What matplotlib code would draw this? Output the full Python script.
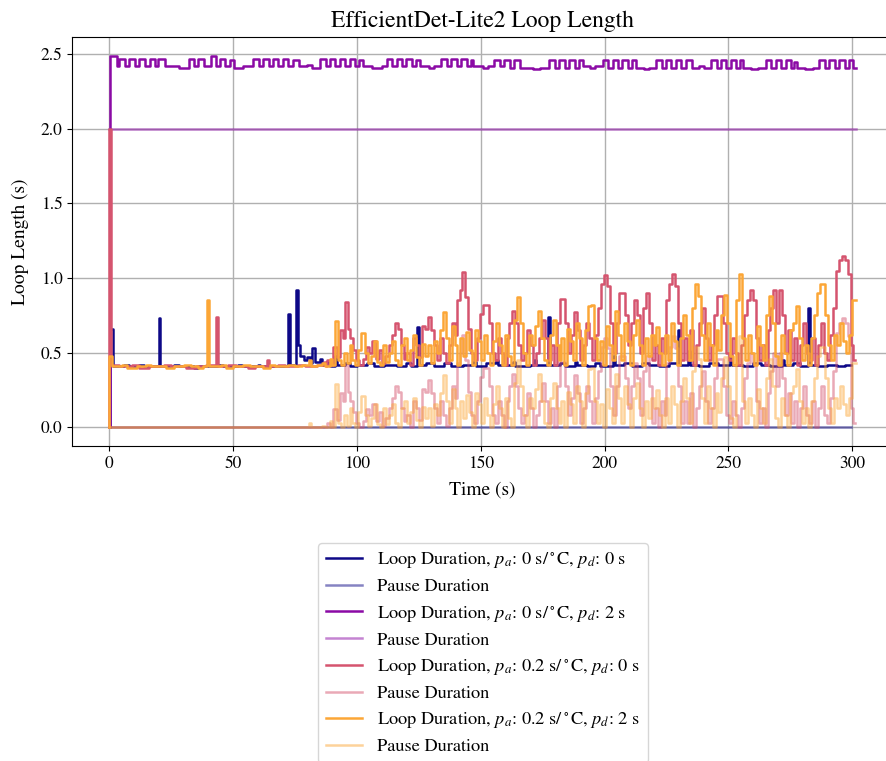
import matplotlib
matplotlib.use("Agg")
import matplotlib.pyplot as plt

# ---------------- data (time s, value s) ----------------
blue_loop = [(0.0, 0.00), (0.4, 0.66), (1.3, 0.41), (6, 0.42), (8, 0.41), (12, 0.42), (14, 0.41),
             (20.0, 0.73), (20.6, 0.41), (26, 0.42), (28, 0.41), (34, 0.40), (36, 0.41), (44, 0.42),
             (46, 0.41), (52, 0.42), (53.5, 0.41), (60, 0.42), (61, 0.41), (66, 0.41), (72.3, 0.76),
             (73.0, 0.42), (75.5, 0.92), (76.2, 0.55), (77.0, 0.48), (78.5, 0.45), (80.0, 0.47),
             (81.0, 0.43), (82.0, 0.53), (83.0, 0.44), (85.0, 0.46), (86.0, 0.42), (88.0, 0.44),
             (89.0, 0.41), (91.0, 0.48), (91.8, 0.42), (95, 0.43), (97, 0.41), (100, 0.42), (104, 0.43),
             (107, 0.41), (111, 0.42), (116, 0.41), (120, 0.43), (122, 0.41), (124.2, 0.67), (125.0, 0.42),
             (128, 0.43), (131, 0.41), (135, 0.43), (138, 0.41), (143, 0.42), (147, 0.44), (148, 0.41),
             (152, 0.43), (156, 0.45), (157, 0.42), (160, 0.42), (163, 0.44), (164, 0.41), (170, 0.42),
             (171.5, 0.45), (172.5, 0.42), (177.3, 0.74), (178.0, 0.42), (182, 0.43), (184, 0.41),
             (188, 0.44), (189, 0.42), (193, 0.41), (196, 0.43), (198, 0.41), (203.6, 0.48), (204.4, 0.42),
             (208, 0.43), (211, 0.41), (215, 0.43), (218, 0.42), (222, 0.41), (226, 0.43), (229.8, 0.65),
             (230.5, 0.42), (233.8, 0.51), (234.5, 0.42), (238, 0.41), (242, 0.43), (246, 0.42),
             (250.6, 0.48), (251.3, 0.42), (256, 0.41), (260, 0.43), (263, 0.42), (267, 0.41),
             (271.5, 0.45), (272.3, 0.42), (276, 0.43), (279, 0.41), (282.2, 0.80), (283.0, 0.42),
             (286, 0.41), (290, 0.42), (294, 0.41), (297, 0.42), (299.6, 0.42)]
blue_pause = [(0.0, 0.0), (299.6, 0.0)]

purple_loop = [(0.0, 0.00), (0.1, 2.49), (3.0, 2.42), (3.9, 2.47), (6.3, 2.42), (8.0, 2.47), (10.3, 2.42),
               (12.0, 2.47), (14.5, 2.42), (16.3, 2.47), (18.5, 2.42), (19.8, 2.47), (22.5, 2.42),
               (28.0, 2.41), (32.0, 2.47), (34.3, 2.42), (36.0, 2.47), (38.3, 2.42), (41.0, 2.49),
               (43.2, 2.42), (44.5, 2.47), (46.8, 2.42), (48.6, 2.46), (50.5, 2.41), (54, 2.42),
               (58.0, 2.47), (60.3, 2.42), (62.0, 2.47), (64.3, 2.42), (66.0, 2.47), (68.3, 2.42),
               (70.0, 2.47), (72.3, 2.42), (74.0, 2.46), (76.5, 2.42), (80, 2.43), (82, 2.41),
               (85.0, 2.47), (87.3, 2.42), (89.0, 2.47), (91.3, 2.42), (93.0, 2.47), (95.3, 2.42),
               (97.0, 2.47), (99.3, 2.42), (101.0, 2.46), (102.5, 2.42), (106, 2.41), (110, 2.42),
               (112.0, 2.47), (114.3, 2.42), (116.0, 2.47), (118.3, 2.42), (120.0, 2.47), (122.3, 2.42),
               (124.0, 2.46), (125.5, 2.42), (129, 2.41), (131, 2.42), (134.0, 2.47), (136.3, 2.42),
               (138.0, 2.47), (140.3, 2.42), (142.0, 2.47), (144.3, 2.42), (146.0, 2.46), (147.0, 2.42),
               (151, 2.41), (153, 2.42), (155.5, 2.46), (157.8, 2.42), (159.5, 2.46), (161.8, 2.41),
               (163.5, 2.46), (165.8, 2.41), (168.3, 2.41), (171, 2.40), (174, 2.41), (177.7, 2.46),
               (180.0, 2.41), (181.7, 2.46), (184.0, 2.41), (185.7, 2.46), (188.0, 2.41), (189.5, 2.46),
               (191.2, 2.42), (194, 2.41), (196, 2.42), (199.2, 2.46), (201.5, 2.41), (203.2, 2.46),
               (205.5, 2.41), (207.2, 2.46), (209.5, 2.41), (211.0, 2.46), (212.7, 2.41), (216, 2.40),
               (218, 2.41), (220.7, 2.46), (223.0, 2.41), (224.7, 2.46), (227.0, 2.41), (228.7, 2.46),
               (231.0, 2.41), (232.7, 2.46), (235.5, 2.41), (238, 2.42), (240, 2.41), (242.9, 2.46),
               (245.2, 2.41), (246.9, 2.46), (249.2, 2.41), (250.9, 2.46), (253.2, 2.41), (254.5, 2.46),
               (255.7, 2.41), (259, 2.40), (262, 2.41), (265.1, 2.46), (267.4, 2.41), (269.1, 2.46),
               (271.4, 2.41), (273.1, 2.46), (275.4, 2.41), (276.5, 2.45), (277.9, 2.41), (281, 2.40),
               (284, 2.41), (286.6, 2.46), (288.9, 2.41), (290.6, 2.46), (292.9, 2.41), (294.6, 2.46),
               (296.9, 2.41), (298.6, 2.46), (300.5, 2.41), (301.4, 2.41)]
purple_pause = [(0.0, 2.0), (301.4, 2.0)]

red_loop = [(0.0, 0.00), (0.05, 2.00), (0.7, 0.42), (4.0, 0.41), (9.0, 0.42), (12.0, 0.40), (16.0, 0.41),
            (22.0, 0.42), (25.0, 0.41), (31.0, 0.40), (35.0, 0.41), (39.0, 0.42), (42.9, 0.74),
            (43.9, 0.41), (48.0, 0.42), (51.0, 0.41), (56.0, 0.40), (59.0, 0.41), (63.5, 0.45),
            (64.5, 0.41), (68.0, 0.42), (71.0, 0.41), (76.0, 0.42), (79.0, 0.41), (84.0, 0.42),
            (86.5, 0.44), (87.5, 0.41),
            (88.0, 0.45), (89.2, 0.42), (90.5, 0.54), (91.8, 0.47), (93.0, 0.65), (94.5, 0.60),
            (95.2, 0.84), (96.2, 0.66), (97.2, 0.60), (98.5, 0.52), (99.8, 0.45), (101.0, 0.42),
            (102.3, 0.46), (103.6, 0.54), (104.8, 0.50), (106.2, 0.58), (107.6, 0.46), (108.8, 0.52),
            (110.0, 0.43), (111.4, 0.48), (112.8, 0.55), (114.2, 0.62), (115.2, 0.70), (116.4, 0.66),
            (117.6, 0.55), (118.8, 0.46), (120.0, 0.50), (121.4, 0.42), (122.8, 0.60), (124.0, 0.55),
            (125.2, 0.47), (126.4, 0.68), (127.6, 0.66), (128.6, 0.74), (129.8, 0.65), (131.0, 0.55),
            (132.2, 0.45), (133.4, 0.60), (134.6, 0.50), (135.8, 0.43), (137.0, 0.55), (138.2, 0.70),
            (139.4, 0.62), (140.6, 0.85), (141.8, 0.92), (142.6, 1.04), (143.8, 0.87), (144.8, 0.66),
            (146.0, 0.50), (147.2, 0.45), (148.4, 0.60), (149.6, 0.76), (150.8, 0.82), (152.0, 0.82),
            (153.2, 0.70), (154.4, 0.50), (155.6, 0.45), (156.8, 0.60), (158.0, 0.50), (159.2, 0.42),
            (160.4, 0.60), (161.6, 0.70), (162.6, 0.78), (163.8, 0.70), (165.0, 0.55), (166.2, 0.45),
            (167.4, 0.50), (168.6, 0.65), (169.8, 0.55), (171.0, 0.42), (172.2, 0.50), (173.4, 0.60),
            (174.6, 0.72), (175.8, 0.60), (177.0, 0.45), (178.2, 0.55), (179.4, 0.42), (180.6, 0.70),
            (181.8, 0.86), (183.0, 0.86), (184.2, 0.70), (185.4, 0.50), (186.6, 0.62), (187.8, 0.77),
            (189.0, 0.65), (190.2, 0.45), (191.4, 0.55), (192.6, 0.70), (193.8, 0.60), (195.0, 0.45),
            (196.2, 0.62), (197.4, 0.80), (198.6, 0.96), (199.8, 1.02), (201.0, 0.95), (202.2, 0.70),
            (203.4, 0.50), (204.6, 0.70), (205.8, 0.90), (207.0, 0.90), (208.2, 0.75), (209.4, 0.55),
            (210.6, 0.70), (211.8, 0.85), (213.0, 0.75), (214.2, 0.50), (215.4, 0.80), (216.6, 0.90),
            (217.8, 0.70), (219.0, 0.45), (220.2, 0.55), (221.4, 0.42), (222.6, 0.60), (223.8, 0.50),
            (225.0, 0.85), (226.2, 0.96), (227.4, 1.03), (228.6, 0.95), (229.8, 0.70), (231.0, 0.45),
            (232.2, 0.60), (233.4, 0.45), (234.6, 0.65), (235.8, 0.42), (237.0, 0.55), (238.2, 0.70),
            (239.4, 0.80), (240.6, 0.60), (241.8, 0.45), (243.0, 0.55), (244.2, 0.75), (245.4, 0.88),
            (246.6, 0.88), (247.8, 0.70), (249.0, 0.50), (250.2, 0.45), (251.4, 0.60), (252.6, 0.50),
            (253.8, 0.42), (255.0, 0.55), (256.2, 0.75), (257.4, 0.85), (258.6, 0.92), (259.8, 0.85),
            (261.0, 0.60), (262.2, 0.45), (263.4, 0.55), (264.6, 0.42), (265.8, 0.65), (267.0, 0.80),
            (268.2, 0.92), (269.4, 0.70), (270.6, 0.92), (271.8, 0.75), (273.0, 0.50), (274.2, 0.65),
            (275.4, 0.45), (276.6, 0.60), (277.8, 0.42), (279.0, 0.55), (280.2, 0.70), (281.4, 0.50),
            (282.6, 0.45), (283.8, 0.60), (285.0, 0.42), (286.2, 0.55), (287.4, 0.70), (288.6, 0.50),
            (289.8, 0.45), (291.0, 0.62), (292.2, 0.80), (293.4, 1.05), (294.6, 1.12), (295.8, 1.15),
            (297.0, 1.12), (298.2, 1.03), (299.4, 0.55), (300.4, 0.45), (301.0, 0.45)]
red_pause = [(0.0, 0.00),
             (88.0, 0.03), (89.2, 0.00), (90.5, 0.12), (91.8, 0.05), (93.0, 0.23), (94.5, 0.18),
             (95.2, 0.42), (96.2, 0.24), (97.2, 0.18), (98.5, 0.10), (99.8, 0.03), (101.0, 0.00),
             (102.3, 0.04), (103.6, 0.12), (104.8, 0.08), (106.2, 0.16), (107.6, 0.04), (108.8, 0.10),
             (110.0, 0.01), (111.4, 0.06), (112.8, 0.13), (114.2, 0.20), (115.2, 0.28), (116.4, 0.24),
             (117.6, 0.13), (118.8, 0.04), (120.0, 0.08), (121.4, 0.00), (122.8, 0.18), (124.0, 0.13),
             (125.2, 0.05), (126.4, 0.26), (127.6, 0.24), (128.6, 0.32), (129.8, 0.23), (131.0, 0.13),
             (132.2, 0.03), (133.4, 0.18), (134.6, 0.08), (135.8, 0.01), (137.0, 0.13), (138.2, 0.28),
             (139.4, 0.20), (140.6, 0.43), (141.8, 0.50), (142.6, 0.62), (143.8, 0.45), (144.8, 0.24),
             (146.0, 0.08), (147.2, 0.03), (148.4, 0.18), (149.6, 0.34), (150.8, 0.40), (152.0, 0.40),
             (153.2, 0.28), (154.4, 0.08), (155.6, 0.03), (156.8, 0.18), (158.0, 0.08), (159.2, 0.00),
             (160.4, 0.18), (161.6, 0.28), (162.6, 0.36), (163.8, 0.28), (165.0, 0.13), (166.2, 0.03),
             (167.4, 0.08), (168.6, 0.23), (169.8, 0.13), (171.0, 0.00), (172.2, 0.08), (173.4, 0.18),
             (174.6, 0.30), (175.8, 0.18), (177.0, 0.03), (178.2, 0.13), (179.4, 0.00), (180.6, 0.28),
             (181.8, 0.44), (183.0, 0.44), (184.2, 0.28), (185.4, 0.08), (186.6, 0.20), (187.8, 0.35),
             (189.0, 0.23), (190.2, 0.03), (191.4, 0.13), (192.6, 0.28), (193.8, 0.18), (195.0, 0.03),
             (196.2, 0.20), (197.4, 0.38), (198.6, 0.54), (199.8, 0.60), (201.0, 0.53), (202.2, 0.28),
             (203.4, 0.08), (204.6, 0.28), (205.8, 0.48), (207.0, 0.48), (208.2, 0.33), (209.4, 0.13),
             (210.6, 0.28), (211.8, 0.43), (213.0, 0.33), (214.2, 0.08), (215.4, 0.38), (216.6, 0.48),
             (217.8, 0.28), (219.0, 0.03), (220.2, 0.13), (221.4, 0.00), (222.6, 0.18), (223.8, 0.08),
             (225.0, 0.43), (226.2, 0.54), (227.4, 0.61), (228.6, 0.53), (229.8, 0.28), (231.0, 0.03),
             (232.2, 0.18), (233.4, 0.03), (234.6, 0.23), (235.8, 0.00), (237.0, 0.13), (238.2, 0.28),
             (239.4, 0.38), (240.6, 0.18), (241.8, 0.03), (243.0, 0.13), (244.2, 0.33), (245.4, 0.46),
             (246.6, 0.46), (247.8, 0.28), (249.0, 0.08), (250.2, 0.03), (251.4, 0.18), (252.6, 0.08),
             (253.8, 0.00), (255.0, 0.13), (256.2, 0.33), (257.4, 0.43), (258.6, 0.50), (259.8, 0.43),
             (261.0, 0.18), (262.2, 0.03), (263.4, 0.13), (264.6, 0.00), (265.8, 0.23), (267.0, 0.38),
             (268.2, 0.50), (269.4, 0.28), (270.6, 0.50), (271.8, 0.33), (273.0, 0.08), (274.2, 0.23),
             (275.4, 0.03), (276.6, 0.18), (277.8, 0.00), (279.0, 0.13), (280.2, 0.28), (281.4, 0.08),
             (282.6, 0.03), (283.8, 0.18), (285.0, 0.00), (286.2, 0.13), (287.4, 0.28), (288.6, 0.08),
             (289.8, 0.03), (291.0, 0.20), (292.2, 0.38), (293.4, 0.63), (294.6, 0.70), (295.8, 0.73),
             (297.0, 0.70), (298.2, 0.61), (299.4, 0.13), (300.4, 0.03), (301.0, 0.03)]

orange_loop = [(0.0, 0.00), (0.05, 0.48), (0.9, 0.41), (5.0, 0.42), (7.0, 0.40), (11.0, 0.41), (15.0, 0.42),
               (17.0, 0.41), (23.0, 0.40), (26.0, 0.41), (30.0, 0.42), (33.0, 0.41), (36.0, 0.40),
               (38.0, 0.41), (39.6, 0.85), (40.4, 0.41), (45.0, 0.42), (47.0, 0.40), (50.0, 0.41),
               (54.0, 0.42), (57.0, 0.41), (62.0, 0.40), (65.0, 0.42), (67.0, 0.41), (72.0, 0.42),
               (75.0, 0.41), (78.0, 0.42), (80.5, 0.45), (81.3, 0.41), (84.0, 0.42),
               (86.0, 0.43), (87.0, 0.41), (89.0, 0.46), (90.0, 0.42), (91.2, 0.71), (92.2, 0.45),
               (93.4, 0.42), (94.6, 0.50), (95.8, 0.43), (97.0, 0.55), (98.2, 0.45), (99.4, 0.42),
               (100.6, 0.52), (101.8, 0.63), (103.4, 0.50), (104.6, 0.43), (105.8, 0.48), (107.0, 0.58),
               (108.2, 0.44), (109.4, 0.42), (110.6, 0.55), (111.8, 0.44), (113.0, 0.50), (114.2, 0.58),
               (115.4, 0.45), (116.6, 0.42), (117.8, 0.55), (119.0, 0.60), (120.2, 0.45), (121.4, 0.52),
               (122.6, 0.62), (123.8, 0.47), (125.0, 0.42), (126.2, 0.56), (127.4, 0.48), (128.6, 0.55),
               (129.8, 0.43), (131.0, 0.58), (132.2, 0.50), (133.4, 0.65), (134.6, 0.77), (135.8, 0.60),
               (137.0, 0.45), (138.2, 0.68), (139.4, 0.55), (140.6, 0.42), (141.8, 0.60), (143.0, 0.48),
               (144.2, 0.64), (145.4, 0.52), (146.6, 0.42), (147.8, 0.65), (149.0, 0.58), (150.2, 0.45),
               (151.4, 0.62), (152.6, 0.50), (153.8, 0.42), (155.0, 0.58), (156.2, 0.70), (157.4, 0.55),
               (158.6, 0.42), (159.8, 0.62), (161.0, 0.48), (162.2, 0.42), (163.4, 0.72), (164.6, 0.87),
               (165.8, 0.70), (167.0, 0.50), (168.2, 0.42), (169.4, 0.62), (170.6, 0.55), (171.8, 0.68),
               (173.0, 0.78), (174.2, 0.60), (175.4, 0.45), (176.6, 0.42), (177.8, 0.62), (179.0, 0.72),
               (180.2, 0.55), (181.4, 0.45), (182.6, 0.60), (183.8, 0.42), (185.0, 0.66), (186.2, 0.58),
               (187.4, 0.45), (188.6, 0.70), (189.8, 0.60), (191.0, 0.42), (192.2, 0.65), (193.4, 0.81),
               (194.6, 0.82), (195.8, 0.60), (197.0, 0.45), (198.2, 0.58), (199.4, 0.42), (200.6, 0.68),
               (201.8, 0.55), (203.0, 0.45), (204.2, 0.78), (205.4, 0.62), (206.6, 0.45), (207.8, 0.70),
               (209.0, 0.58), (210.2, 0.42), (211.4, 0.62), (212.6, 0.72), (213.8, 0.55), (215.0, 0.42),
               (216.2, 0.60), (217.4, 0.48), (218.6, 0.62), (219.8, 0.55), (220.8, 0.67), (222.0, 0.50),
               (223.2, 0.42), (224.4, 0.62), (225.6, 0.45), (226.8, 0.70), (228.0, 0.58), (229.2, 0.42),
               (230.4, 0.60), (231.6, 0.75), (232.8, 0.62), (234.0, 0.45), (235.2, 0.80), (236.4, 0.96),
               (237.6, 0.88), (238.8, 0.62), (240.0, 0.45), (241.2, 0.70), (242.4, 0.55), (243.6, 0.42),
               (244.8, 0.65), (246.0, 0.52), (247.2, 0.75), (248.4, 0.89), (249.6, 0.70), (250.8, 0.48),
               (252.0, 0.42), (253.2, 0.85), (254.4, 1.03), (255.6, 0.60), (256.8, 0.45), (258.0, 0.62),
               (259.2, 0.50), (260.4, 0.42), (261.6, 0.68), (262.8, 0.55), (264.0, 0.45), (265.2, 0.75),
               (266.4, 0.88), (267.6, 0.70), (268.8, 0.48), (270.0, 0.42), (271.2, 0.62), (272.4, 0.50),
               (273.6, 0.42), (274.8, 0.65), (276.0, 0.70), (277.2, 0.81), (278.4, 0.60), (279.6, 0.45),
               (280.8, 0.55), (282.0, 0.42), (283.2, 0.60), (284.4, 0.75), (285.6, 0.90), (286.8, 0.96),
               (288.0, 0.96), (289.2, 0.75), (290.4, 0.55), (291.6, 0.45), (292.8, 0.62), (294.0, 0.55),
               (295.2, 0.70), (296.4, 0.58), (297.6, 0.50), (298.8, 0.62), (300.0, 0.85), (301.4, 0.85)]
orange_pause = [(0.0, 0.00), (80.5, 0.03), (81.3, 0.00),
                (86.0, 0.01), (87.0, 0.00), (89.0, 0.04), (90.0, 0.00), (91.2, 0.29), (92.2, 0.03),
                (93.4, 0.00), (94.6, 0.08), (95.8, 0.01), (97.0, 0.13), (98.2, 0.03), (99.4, 0.00),
                (100.6, 0.10), (101.8, 0.21), (103.4, 0.08), (104.6, 0.01), (105.8, 0.06), (107.0, 0.16),
                (108.2, 0.02), (109.4, 0.00), (110.6, 0.13), (111.8, 0.02), (113.0, 0.08), (114.2, 0.16),
                (115.4, 0.03), (116.6, 0.00), (117.8, 0.13), (119.0, 0.18), (120.2, 0.03), (121.4, 0.10),
                (122.6, 0.20), (123.8, 0.05), (125.0, 0.00), (126.2, 0.14), (127.4, 0.06), (128.6, 0.13),
                (129.8, 0.01), (131.0, 0.16), (132.2, 0.08), (133.4, 0.23), (134.6, 0.35), (135.8, 0.18),
                (137.0, 0.03), (138.2, 0.26), (139.4, 0.13), (140.6, 0.00), (141.8, 0.18), (143.0, 0.06),
                (144.2, 0.22), (145.4, 0.10), (146.6, 0.00), (147.8, 0.23), (149.0, 0.16), (150.2, 0.03),
                (151.4, 0.20), (152.6, 0.08), (153.8, 0.00), (155.0, 0.16), (156.2, 0.28), (157.4, 0.13),
                (158.6, 0.00), (159.8, 0.20), (161.0, 0.06), (162.2, 0.00), (163.4, 0.30), (164.6, 0.45),
                (165.8, 0.28), (167.0, 0.08), (168.2, 0.00), (169.4, 0.20), (170.6, 0.13), (171.8, 0.26),
                (173.0, 0.36), (174.2, 0.18), (175.4, 0.03), (176.6, 0.00), (177.8, 0.20), (179.0, 0.30),
                (180.2, 0.13), (181.4, 0.03), (182.6, 0.18), (183.8, 0.00), (185.0, 0.24), (186.2, 0.16),
                (187.4, 0.03), (188.6, 0.28), (189.8, 0.18), (191.0, 0.00), (192.2, 0.23), (193.4, 0.39),
                (194.6, 0.40), (195.8, 0.18), (197.0, 0.03), (198.2, 0.16), (199.4, 0.00), (200.6, 0.26),
                (201.8, 0.13), (203.0, 0.03), (204.2, 0.36), (205.4, 0.20), (206.6, 0.03), (207.8, 0.28),
                (209.0, 0.16), (210.2, 0.00), (211.4, 0.20), (212.6, 0.30), (213.8, 0.13), (215.0, 0.00),
                (216.2, 0.18), (217.4, 0.06), (218.6, 0.20), (219.8, 0.13), (220.8, 0.25), (222.0, 0.08),
                (223.2, 0.00), (224.4, 0.20), (225.6, 0.03), (226.8, 0.28), (228.0, 0.16), (229.2, 0.00),
                (230.4, 0.18), (231.6, 0.33), (232.8, 0.20), (234.0, 0.03), (235.2, 0.38), (236.4, 0.54),
                (237.6, 0.46), (238.8, 0.20), (240.0, 0.03), (241.2, 0.28), (242.4, 0.13), (243.6, 0.00),
                (244.8, 0.23), (246.0, 0.10), (247.2, 0.33), (248.4, 0.47), (249.6, 0.28), (250.8, 0.06),
                (252.0, 0.00), (253.2, 0.43), (254.4, 0.61), (255.6, 0.18), (256.8, 0.03), (258.0, 0.20),
                (259.2, 0.08), (260.4, 0.00), (261.6, 0.26), (262.8, 0.13), (264.0, 0.03), (265.2, 0.33),
                (266.4, 0.46), (267.6, 0.28), (268.8, 0.06), (270.0, 0.00), (271.2, 0.20), (272.4, 0.08),
                (273.6, 0.00), (274.8, 0.23), (276.0, 0.28), (277.2, 0.39), (278.4, 0.18), (279.6, 0.03),
                (280.8, 0.13), (282.0, 0.00), (283.2, 0.18), (284.4, 0.33), (285.6, 0.48), (286.8, 0.54),
                (288.0, 0.54), (289.2, 0.33), (290.4, 0.13), (291.6, 0.03), (292.8, 0.20), (294.0, 0.13),
                (295.2, 0.28), (296.4, 0.16), (297.6, 0.08), (298.8, 0.20), (300.0, 0.43), (301.4, 0.43)]

series = [
    (blue_loop, r"Loop Duration, $p_a$: 0 s/$^\circ$C, $p_d$: 0 s", "#0d0887", 1.0),
    (blue_pause, "Pause Duration", "#0d0887", 0.5),
    (purple_loop, r"Loop Duration, $p_a$: 0 s/$^\circ$C, $p_d$: 2 s", "#8b0aa5", 1.0),
    (purple_pause, "Pause Duration", "#8b0aa5", 0.5),
    (red_loop, r"Loop Duration, $p_a$: 0.2 s/$^\circ$C, $p_d$: 0 s", "#d5546e", 1.0),
    (red_pause, "Pause Duration", "#d5546e", 0.5),
    (orange_loop, r"Loop Duration, $p_a$: 0.2 s/$^\circ$C, $p_d$: 2 s", "#fca636", 1.0),
    (orange_pause, "Pause Duration", "#fca636", 0.5),
]

# ---------------- figure ----------------
plt.rcParams['font.family'] = ['STIXGeneral', 'DejaVu Serif']
plt.rcParams['mathtext.fontset'] = 'stix'

W, H = 887, 761
fig = plt.figure(figsize=(W / 100, H / 100), dpi=100)
ax = fig.add_axes([72 / W, (H - 446) / H, (893 - 72) / W, (446 - 37) / H])

for pts, label, color, alpha in series:
    t = [p[0] for p in pts]
    v = [p[1] for p in pts]
    ax.plot(t, v, drawstyle='steps-post', color=color, alpha=alpha, lw=1.8, label=label)

ax.set_xlim(-15.07, 316.47)
ax.set_ylim(-0.1245, 2.6145)
ax.set_xticks([0, 50, 100, 150, 200, 250, 300])
ax.set_yticks([0.0, 0.5, 1.0, 1.5, 2.0, 2.5])
ax.tick_params(labelsize=12.5)
ax.grid(True, color='#b0b0b0', lw=1.0)
ax.set_axisbelow(True)
ax.set_title("EfficientDet-Lite2 Loop Length", fontsize=17, pad=7)
ax.set_xlabel("Time (s)", fontsize=14, labelpad=7)
ax.set_ylabel("Loop Length (s)", fontsize=14, labelpad=8)

fig.legend(loc='upper center', bbox_to_anchor=(483 / W, (H - 543) / H),
           bbox_transform=fig.transFigure, borderaxespad=0, fontsize=13.2,
           labelspacing=0.45, framealpha=0.8)

fig.savefig("out.png", dpi=100)
